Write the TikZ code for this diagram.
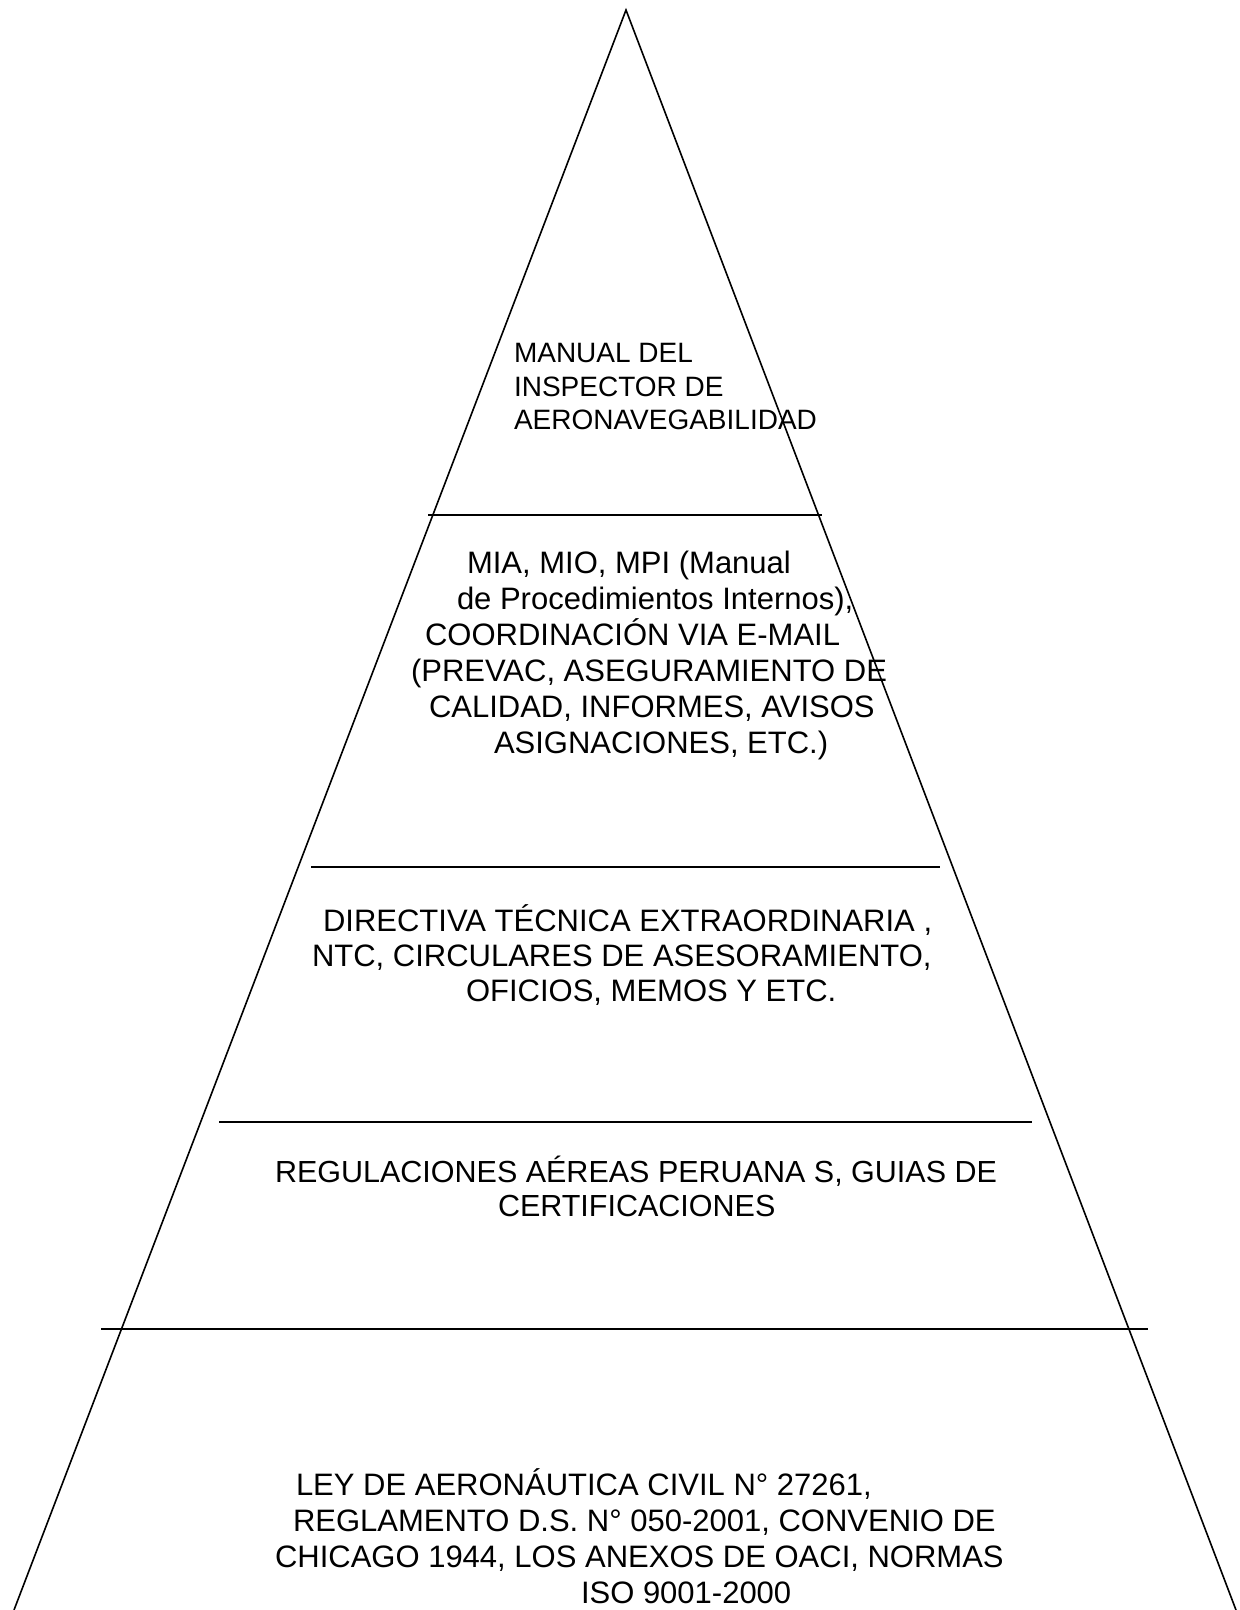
\documentclass[tikz,border=0pt]{standalone}
\usepackage{fontspec}
\setmainfont{Liberation Sans}
\usetikzlibrary{positioning, calc}

\begin{document}
\begin{tikzpicture}[
    x=0.5pt, y=-0.5pt,
    every node/.style={inner sep=0pt, outer sep=0pt, align=left, anchor=base west},
    side/.style={line width=0.8pt},
    divider/.style={line width=1pt},
    tierone/.style={font=\fontsize{14}{16.5}\selectfont},
    tiertwo/.style={font=\fontsize{15.5}{18}\selectfont},
    tierthree/.style={font=\fontsize{15.5}{17.5}\selectfont},
    tierfour/.style={font=\fontsize{15.25}{17}\selectfont},
    tierfive/.style={font=\fontsize{15.5}{18}\selectfont}
]

\useasboundingbox (0,0) rectangle (1239,1610);

% Pyramid
\coordinate (apex) at (626,10);
\coordinate (baseL) at (14,1610);
\coordinate (baseR) at (1236,1610);

\coordinate (cut1w) at (428,515);
\coordinate (cut1e) at (822,515);
\coordinate (cut2w) at (311,867);
\coordinate (cut2e) at (940,867);
\coordinate (cut3w) at (219,1122);
\coordinate (cut3e) at (1032,1122);
\coordinate (cut4w) at (101,1329);
\coordinate (cut4e) at (1148,1329);

% Nodes (anchored on the baseline of the last line)
\node (manual) [tierone] at (514,429) {MANUAL DEL\\INSPECTOR DE\\AERONAVEGABILIDAD};

\node (internos) [tiertwo] at (411,753) {\hspace*{28pt}MIA, MIO, MPI (Manual\\
\hspace*{23pt}de Procedimientos Internos),\\
\hspace*{7pt}COORDINACIÓN VIA E-MAIL\\
(PREVAC, ASEGURAMIENTO DE\\
\hspace*{9pt}CALIDAD, INFORMES, AVISOS\\
\hspace*{41.5pt}ASIGNACIONES, ETC.)};

\node (directiva) [tierthree] at (312,1001) {\hspace*{5.5pt}DIRECTIVA TÉCNICA EXTRAORDINARIA ,\\
NTC, CIRCULARES DE ASESORAMIENTO,\\
\hspace*{77pt}OFICIOS, MEMOS Y ETC.};

\node (regulaciones) [tierfour] at (275,1216) {REGULACIONES AÉREAS PERUANA S, GUIAS DE\\
\hspace*{111.5pt}CERTIFICACIONES};

\node (ley) [tierfive] at (275,1603) {\hspace*{10.5pt}LEY DE AERONÁUTICA CIVIL N° 27261,\\
\hspace*{9pt}REGLAMENTO D.S. N° 050-2001, CONVENIO DE\\
CHICAGO 1944, LOS ANEXOS DE OACI, NORMAS\\
\hspace*{153pt}ISO 9001-2000};

% Edges
\draw[side] (baseL) -- (apex) -- (baseR);
\draw[divider] (cut1w) -- (cut1e);
\draw[divider] (cut2w) -- (cut2e);
\draw[divider] (cut3w) -- (cut3e);
\draw[divider] (cut4w) -- (cut4e);

\end{tikzpicture}
\end{document}
